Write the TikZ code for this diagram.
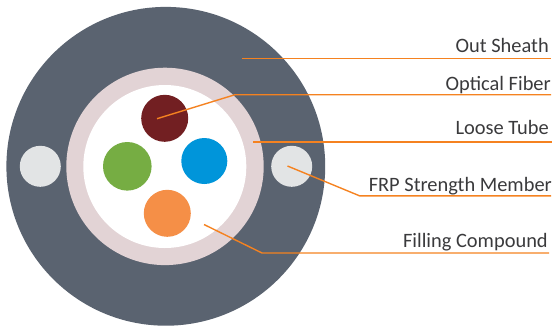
\documentclass[tikz,border=0pt]{standalone}
\usepackage{fontspec}
\setmainfont{Carlito}
\usetikzlibrary{positioning, calc}
\definecolor{sheathgrey}{HTML}{5A6370}
\definecolor{tubepink}{HTML}{E2D3D5}
\definecolor{memberwhite}{HTML}{E2E4E5}
\definecolor{fiberred}{HTML}{721F22}
\definecolor{fibergreen}{HTML}{76AD43}
\definecolor{fiberblue}{HTML}{0095DA}
\definecolor{fiberorange}{HTML}{F58F47}
\definecolor{leaderorange}{HTML}{F58220}
\definecolor{labelgrey}{HTML}{3A3A3C}
\tikzstyle{disc} = [circle, inner sep=0pt, draw=none]
\tikzstyle{member} = [disc, minimum size=41bp, fill=memberwhite]
\tikzstyle{fiber} = [disc, minimum size=47bp]
\tikzstyle{callout} = [anchor=base east, inner sep=0pt, text=labelgrey, font=\fontsize{20.5}{20.5}\selectfont]
\tikzstyle{leader} = [draw=leaderorange, line width=1.4bp]

\begin{document}
\begin{tikzpicture}[x=1bp, y=-1bp]
	\useasboundingbox (0,0) rectangle (555,331);

	\node (sheath) at (165.8,166.3) [disc, minimum size=318.8bp, fill=sheathgrey] {};
	\node (tube) at (165,166.4) [disc, minimum size=197.4bp, fill=tubepink] {};
	\node (core) at (164.8,166.5) [disc, minimum size=163bp, fill=white] {};

	\node (member_left) at (40.3,166.3) [member] {};
	\node (member_right) at (291.7,166.3) [member] {};

	\node (fiber_red) at (164.7,118.3) [fiber, fill=fiberred] {};
	\node (fiber_green) at (127.3,166.3) [fiber, minimum size=48.6bp, fill=fibergreen] {};
	\node (fiber_blue) at (204.3,161) [fiber, minimum size=46bp, fill=fiberblue] {};
	\node (fiber_orange) at (167.3,213.3) [fiber, fill=fiberorange] {};

	\node (sheath_label) at (549,52) [callout] {Out Sheath};
	\node (optical_label) at (551,90) [callout] {Optical Fiber};
	\node (tube_label) at (549,134) [callout] {Loose Tube};
	\node (member_label) at (552,191) [callout] {FRP Strength Member};
	\node (compound_label) at (548,247) [callout] {Filling Compound};

	% The free ends of the leaders
	\coordinate (sheath_start) at (242,58.4);
	\coordinate (sheath_end) at (551,58.4);
	\coordinate (optical_start) at (157,118.7);
	\coordinate (optical_knee) at (235,94.7);
	\coordinate (optical_end) at (551,94.7);
	\coordinate (tube_start) at (253,142);
	\coordinate (tube_end) at (551.5,142);
	\coordinate (member_start) at (287.5,166);
	\coordinate (member_knee) at (359.5,195.8);
	\coordinate (member_end) at (551,195.8);
	\coordinate (compound_start) at (204,224.5);
	\coordinate (compound_knee) at (262,253);
	\coordinate (compound_end) at (549,253);

	% Leaders
	\draw [leader] (sheath_start) -- (sheath_end);
	\draw [leader] (optical_start) -- (optical_knee) -- (optical_end);
	\draw [leader] (tube_start) -- (tube_end);
	\draw [leader] (member_start) -- (member_knee) -- (member_end);
	\draw [leader] (compound_start) -- (compound_knee) -- (compound_end);
\end{tikzpicture}
\end{document}
